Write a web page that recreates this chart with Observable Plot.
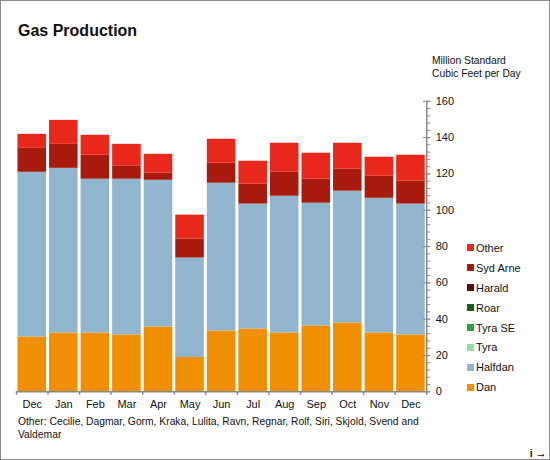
<!DOCTYPE html>
<html>
<head>
<meta charset="utf-8">
<script src="https://cdn.jsdelivr.net/npm/d3@7"></script>
<script src="https://cdn.jsdelivr.net/npm/@observablehq/plot@0.6"></script>
<style>
  html, body { margin: 0; padding: 0; background: #fff; overflow: hidden; }
  #wrap { position: relative; width: 550px; height: 460px; box-sizing: border-box; border: 1px solid #8c8c8c; font-family: "Liberation Sans", Arial, sans-serif; color: #111; overflow: hidden; }
  #chart { position: absolute; left: -1px; top: -1px; }
  #title { position: absolute; left: 17px; top: 21px; font-size: 16px; font-weight: bold; }
  #units { position: absolute; left: 431px; top: 53px; font-size: 10.3px; line-height: 13px; }
  #caption { position: absolute; left: 17px; top: 415px; width: 420px; font-size: 10.3px; line-height: 12.5px; }
  #legend { position: absolute; left: 466px; top: 237px; font-size: 11px; }
  .li { height: 19.9px; display: flex; align-items: center; }
  .sw { width: 7px; height: 7px; margin-right: 2px; }
</style>
</head>
<body>
<div id="wrap">
  <div id="chart"></div>
  <div id="title">Gas Production</div>
  <div id="units">Million Standard<br>Cubic Feet per Day</div>
  <div id="legend"></div>
  <div id="caption">Other: Cecilie, Dagmar, Gorm, Kraka, Lulita, Ravn, Regnar, Rolf, Siri, Skjold, Svend and Valdemar</div>
</div>
<script>
const months = ["Dec", "Jan", "Feb", "Mar", "Apr", "May", "Jun", "Jul", "Aug", "Sep", "Oct", "Nov", "Dec"];
// stacking order bottom -> top
const seriesNames = ["Dan", "Halfdan", "Tyra", "Tyra SE", "Roar", "Harald", "Syd Arne", "Other"];
const seriesColors = ["#f09000", "#91b5cc", "#90e0a0", "#2ea043", "#1b5e20", "#5e0c08", "#a81a0e", "#e8281a"];
const dan     = [30.2, 32.4, 32.4, 31.3, 35.7, 18.9, 33.5, 34.6, 32.4, 36.3, 37.9, 32.4, 31.3];
const halfdan = [90.7, 90.7, 84.7, 85.8, 80.8, 54.8, 81.4, 68.8, 75.3, 67.6, 72.6, 74.2, 72.1];
const tyra    = [0, 0, 0, 0, 0, 0, 0, 0, 0, 0, 0, 0, 0];
const tyraSE  = [0, 0, 0, 0, 0, 0, 0, 0, 0, 0, 0, 0, 0];
const roar    = [0, 0, 0, 0, 0, 0, 0, 0, 0, 0, 0, 0, 0];
const harald  = [0, 0, 0, 0, 0, 0, 0, 0, 0, 0, 0, 0, 0];
const sydArne = [13.2, 13.2, 13.2, 7.1, 3.9, 10.4, 11.0, 10.9, 13.2, 13.2, 12.1, 12.1, 12.6];
const other   = [7.7, 13.2, 11.0, 12.1, 10.4, 13.2, 13.2, 12.7, 16.0, 14.3, 14.3, 10.5, 14.3];
const yTicks = [0, 20, 40, 60, 80, 100, 120, 140, 160];

const seriesValues = [dan, halfdan, tyra, tyraSE, roar, harald, sydArne, other];

// build stacked table
const rows = [];
months.forEach((m, i) => {
  let acc = 0;
  seriesNames.forEach((s, k) => {
    const v = seriesValues[k][i];
    rows.push({i, month: m, series: s, y1: acc, y2: acc + v});
    acc += v;
  });
});
const visibleRows = rows.filter(d => d.y2 > d.y1);

const axisColor = "#888";
const minorTicks = d3.range(0, 161, 4);

const chart = Plot.plot({
  width: 550,
  height: 460,
  marginLeft: 16,
  marginRight: 123,
  marginTop: 101,
  marginBottom: 68,
  style: {fontFamily: "'Liberation Sans', Arial, sans-serif", fontSize: "11px", color: "#111", background: "transparent"},
  x: {type: "linear", domain: [0, months.length], axis: null},
  y: {domain: [0, 160], axis: null},
  color: {domain: seriesNames, range: seriesColors},
  marks: [
    Plot.rectY(visibleRows, {x1: "i", x2: d => d.i + 1, y1: "y1", y2: "y2", fill: "series", insetLeft: 1.5, insetRight: 1.5}),
    // bottom axis line and boundary ticks
    Plot.ruleY([0], {stroke: axisColor, strokeWidth: 1.5}),
    Plot.axisX({ticks: d3.range(0, months.length + 1), tickFormat: () => "", tickSize: 3.5, stroke: axisColor, strokeWidth: 1.5}),
    Plot.axisX({ticks: d3.range(months.length).map(i => i + 0.5), tickFormat: d => months[Math.floor(d)], tickSize: 0, tickPadding: 8, fill: "#111"}),
    // right y axis
    Plot.ruleX([months.length], {y1: 0, y2: 160, stroke: axisColor, strokeWidth: 1.5}),
    Plot.axisY({anchor: "right", ticks: minorTicks, tickFormat: () => "", tickSize: 3, stroke: axisColor}),
    Plot.axisY({anchor: "right", ticks: yTicks, tickSize: 3, tickPadding: 6, stroke: axisColor, fill: "#111"}),
    Plot.ruleY(yTicks, {x1: months.length - 0.1, x2: months.length, stroke: axisColor})
  ]
});
document.getElementById("chart").appendChild(chart);

// legend: top to bottom is reverse of stacking order
const legend = document.getElementById("legend");
seriesNames.slice().reverse().forEach(s => {
  const k = seriesNames.indexOf(s);
  const row = document.createElement("div");
  row.className = "li";
  const sw = document.createElement("span");
  sw.className = "sw";
  sw.style.background = seriesColors[k];
  const t = document.createElement("span");
  t.textContent = s;
  row.appendChild(sw);
  row.appendChild(t);
  legend.appendChild(row);
});
</script>
</body>
</html>
